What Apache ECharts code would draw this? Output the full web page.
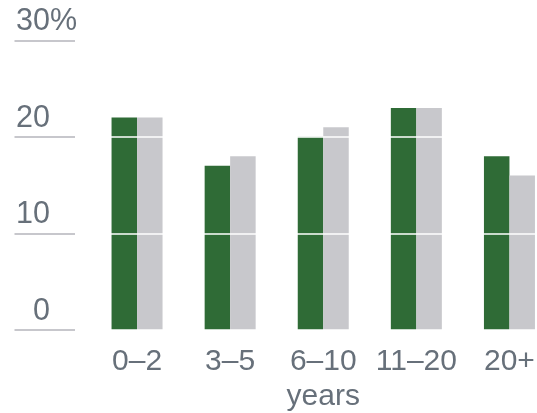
<!DOCTYPE html>
<html><head><meta charset="utf-8">
<script src="https://cdn.jsdelivr.net/npm/echarts@6/dist/echarts.min.js"></script>
<style>html,body{margin:0;padding:0;background:#fff;overflow:hidden;width:537px;height:413px;position:relative}#c{position:absolute;left:0;top:0;width:556px;height:413px}</style>
</head><body><div id="c"></div>
<script>
const categories = ['0–2', '3–5', '6–10', '11–20', '20+'];
const seriesA = [22, 17, 20, 23, 18];
const seriesB = [22, 18, 21, 23, 16];
const yTicks = [0, 10, 20, 30];
const axisName = 'years';

const FONT = '"Liberation Sans", Arial, sans-serif';
const TXT = '#67707a';
const chart = echarts.init(document.getElementById('c'), null, {renderer: 'canvas', width: 556, height: 413});
chart.setOption({
  animation: false,
  grid: [
    {left: 90.5, right: 0, top: 40.3, bottom: 83, containLabel: false, outerBoundsMode: 'none'},
    {left: 14.5, width: 60.5, top: 40.3, bottom: 83, containLabel: false, outerBoundsMode: 'none'}
  ],
  xAxis: [
    {type: 'category', gridIndex: 0, data: categories,
     axisLine: {show: false}, axisTick: {show: false},
     axisLabel: {fontSize: 30, color: TXT, fontFamily: FONT, margin: 17, interval: 0, hideOverlap: false},
     name: axisName, nameLocation: 'middle', nameGap: 51,
     nameTextStyle: {fontSize: 30, color: TXT, fontFamily: FONT}},
    {type: 'value', gridIndex: 1, show: false}
  ],
  yAxis: [
    {type: 'value', gridIndex: 0, min: 0, max: 30, interval: 10, z: 5,
     axisLine: {show: false}, axisTick: {show: false},
     splitLine: {show: true, lineStyle: {color: '#ffffff', width: 1.5}},
     axisLabel: {show: true, fontSize: 30.5, color: TXT, fontFamily: FONT, margin: 13.5,
       align: 'right', verticalAlign: 'bottom', padding: [0, 0, 3, 0],
       formatter: v => (v === yTicks[yTicks.length - 1] ? v + '%' : v + '{h|%}'),
       rich: {h: {fontSize: 30.5, fontFamily: FONT, color: 'rgba(0,0,0,0)'}}}},
    {type: 'value', gridIndex: 1, min: 0, max: 30, interval: 10,
     axisLine: {show: false}, axisTick: {show: false}, axisLabel: {show: false},
     splitLine: {show: true, lineStyle: {color: '#b4b4bb', width: 1.5}}}
  ],
  series: [
    {type: 'bar', xAxisIndex: 0, yAxisIndex: 0, data: seriesA, barWidth: 25.5, barGap: '0%',
     itemStyle: {color: '#2f6b36'}},
    {type: 'bar', xAxisIndex: 0, yAxisIndex: 0, data: seriesB, barWidth: 25.5, barGap: '0%',
     itemStyle: {color: '#c8c8cc'}}
  ]
});
</script></body></html>
